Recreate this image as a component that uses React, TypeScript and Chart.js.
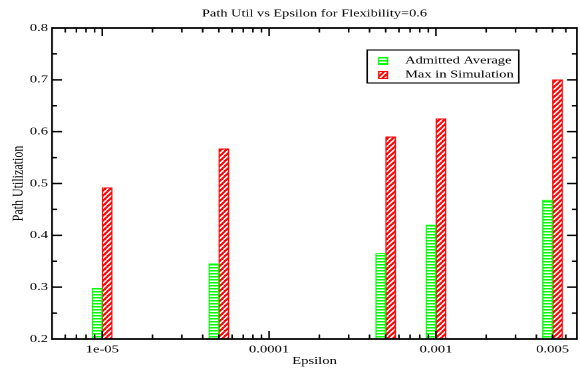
import React, { useEffect, useRef } from 'react';
import { Chart, registerables } from 'chart.js';

Chart.register(...registerables);

// ---- data ----
const epsilons = [1e-5, 5e-5, 5e-4, 1e-3, 5e-3];
const admittedAverage = [0.298, 0.345, 0.365, 0.42, 0.468];
const maxInSimulation = [0.492, 0.567, 0.59, 0.625, 0.70];
const xTickValues = [1e-5, 1e-4, 1e-3, 5e-3];
const xTickLabels = ['1e-05', '0.0001', '0.001', '0.005'];
const seriesNames = ['Admitted Average', 'Max in Simulation'];
const titleText = 'Path Util vs Epsilon for Flexibility=0.6';
const xTitle = 'Epsilon';
const yTitle = 'Path Utilization';
const xMin = 5e-6;
const xMax = 7e-3;
const yMin = 0.2;
const yMax = 0.8;
const yStep = 0.1;
const minorMultipliers = [2, 3, 4, 5, 6, 7, 8, 9];

// ---- layout ----
const OUT_W = 580;
const OUT_H = 368;
const IN_W = 436;
const SX = OUT_W / IN_W;
const FONT = "'Liberation Serif', 'Times New Roman', serif";
const GREEN = '#00ff00';
const RED = '#ff0000';

function makeGreenPattern(ctx: CanvasRenderingContext2D) {
  const c = document.createElement('canvas');
  c.width = 2;
  c.height = 6;
  const g = c.getContext('2d')!;
  g.fillStyle = '#ffffff';
  g.fillRect(0, 0, 2, 6);
  g.fillStyle = GREEN;
  g.fillRect(0, 0, 2, 3);
  const p = ctx.createPattern(c, 'repeat')!;
  p.setTransform(new DOMMatrix().scale(0.5, 0.5));
  return p;
}

function makeRedPattern(ctx: CanvasRenderingContext2D) {
  const c = document.createElement('canvas');
  c.width = 8;
  c.height = 10;
  const g = c.getContext('2d')!;
  g.fillStyle = RED;
  g.fillRect(0, 0, 8, 10);
  g.strokeStyle = '#ffffff';
  g.lineWidth = 2.8;
  for (const off of [-8, 0, 8]) {
    g.beginPath();
    g.moveTo(off, 10);
    g.lineTo(off + 8, 0);
    g.stroke();
  }
  const p = ctx.createPattern(c, 'repeat')!;
  p.setTransform(new DOMMatrix().scale(0.5, 0.5));
  return p;
}

export default function App() {
  const ref = useRef<HTMLCanvasElement | null>(null);

  useEffect(() => {
    const canvas = ref.current!;
    const ctx0 = canvas.getContext('2d')!;
    const greenPat = makeGreenPattern(ctx0);
    const redPat = makeRedPattern(ctx0);

    const decorPlugin = {
      id: 'decor',
      afterDraw(chart: any) {
        const ctx: CanvasRenderingContext2D = chart.ctx;
        const { left, right, top, bottom } = chart.chartArea;
        const xs = chart.scales.x;
        const ys = chart.scales.y;
        ctx.save();
        ctx.strokeStyle = '#000';
        // ticks
        ctx.lineWidth = 1.2;
        const majX = 8, minX = 4.5, majY = 7.5, minY = 3.8;
        const vTick = (v: number, len: number) => {
          const px = xs.getPixelForValue(v);
          if (px <= left + 1 || px >= right - 1) return;
          ctx.beginPath();
          ctx.moveTo(px, bottom);
          ctx.lineTo(px, bottom - len);
          ctx.moveTo(px, top);
          ctx.lineTo(px, top + len);
          ctx.stroke();
        };
        for (let e = -6; e <= -2; e++) {
          const base = Math.pow(10, e);
          if (base >= xMin && base <= xMax) vTick(base, majX);
          for (const m of minorMultipliers) {
            const v = m * base;
            if (v >= xMin && v <= xMax) vTick(v, minX);
          }
        }
        ctx.lineWidth = 1.5;
        const hTick = (v: number, len: number) => {
          const py = ys.getPixelForValue(v);
          if (py <= top + 1 || py >= bottom - 1) return;
          ctx.beginPath();
          ctx.moveTo(left, py);
          ctx.lineTo(left + len, py);
          ctx.moveTo(right, py);
          ctx.lineTo(right - len, py);
          ctx.stroke();
        };
        const nSteps = Math.round((yMax - yMin) / yStep);
        for (let i = 0; i <= nSteps; i++) {
          const v = yMin + i * yStep;
          hTick(v, majY);
          if (i < nSteps) hTick(v + yStep / 2, minY);
        }
        // frame
        ctx.lineWidth = 1.7;
        ctx.beginPath();
        ctx.moveTo(left, top);
        ctx.lineTo(right, top);
        ctx.moveTo(left, bottom);
        ctx.lineTo(right, bottom);
        ctx.stroke();
        ctx.lineWidth = 1.3;
        ctx.beginPath();
        ctx.moveTo(left, top - 0.85);
        ctx.lineTo(left, bottom + 0.85);
        ctx.moveTo(right, top - 0.85);
        ctx.lineTo(right, bottom + 0.85);
        ctx.stroke();

        // titles
        ctx.fillStyle = '#000';
        const cx = (left + right) / 2;
        ctx.font = `10.8px ${FONT}`;
        ctx.textAlign = 'center';
        ctx.textBaseline = 'alphabetic';
        ctx.fillText(titleText, cx, 16.5);
        ctx.font = `11px ${FONT}`;
        ctx.fillText(xTitle, cx, 364);
        ctx.save();
        ctx.font = `12px ${FONT}`;
        ctx.translate(13.8, (top + bottom) / 2);
        ctx.rotate(-Math.PI / 2);
        ctx.textBaseline = 'middle';
        ctx.fillText(yTitle, 0, 0);
        ctx.restore();

        // legend
        const lx0 = 276, lx1 = 390, ly0 = 50, ly1 = 83;
        ctx.fillStyle = '#fff';
        ctx.fillRect(lx0, ly0, lx1 - lx0, ly1 - ly0);
        ctx.strokeStyle = '#000';
        ctx.lineWidth = 1.1;
        ctx.strokeRect(lx0, ly0, lx1 - lx0, ly1 - ly0);
        const rows = [
          { pat: greenPat, col: GREEN, y: 57, base: 63.3, label: seriesNames[0] },
          { pat: redPat, col: RED, y: 71, base: 77.3, label: seriesNames[1] },
        ];
        for (const r of rows) {
          ctx.fillStyle = r.pat;
          ctx.fillRect(284.2, r.y, 7.5, 8);
          ctx.strokeStyle = r.col;
          ctx.lineWidth = 1;
          ctx.strokeRect(284.7, r.y + 0.5, 6.5, 7);
          ctx.fillStyle = '#000';
          ctx.font = `10.9px ${FONT}`;
          ctx.textAlign = 'left';
          ctx.textBaseline = 'alphabetic';
          ctx.fillText(r.label, 304.5, r.base);
        }
        ctx.restore();
      },
    };

    const chart = new Chart(canvas, {
      type: 'bar',
      data: {
        datasets: [
          {
            label: seriesNames[0],
            data: epsilons.map((x, i) => ({ x, y: admittedAverage[i] })),
            backgroundColor: greenPat as any,
            borderColor: GREEN,
            borderWidth: 1,
            borderSkipped: 'start',
            barThickness: 7.5,
          },
          {
            label: seriesNames[1],
            data: epsilons.map((x, i) => ({ x, y: maxInSimulation[i] })),
            backgroundColor: redPat as any,
            borderColor: RED,
            borderWidth: 1,
            borderSkipped: 'start',
            barThickness: 7.5,
          },
        ],
      },
      options: {
        animation: false,
        responsive: true,
        maintainAspectRatio: false,
        devicePixelRatio: 2,
        layout: { padding: { top: 28, right: 2.3, left: 0, bottom: 0 } },
        plugins: {
          legend: { display: false },
          title: { display: false },
          tooltip: { enabled: false },
        },
        scales: {
          x: {
            type: 'logarithmic',
            min: xMin,
            max: xMax,
            offset: false,
            grid: { display: false, drawTicks: false, offset: false },
            border: { display: false },
            afterBuildTicks: (s: any) => {
              s.ticks = xTickValues.map((v) => ({ value: v }));
            },
            afterFit: (s: any) => {
              s.height = OUT_H - 339;
            },
            ticks: {
              autoSkip: false,
              maxRotation: 0,
              minRotation: 0,
              padding: 4,
              color: '#000',
              font: { family: FONT, size: 11 },
              callback: (value: any) => {
                const v = Number(value);
                const i = xTickValues.findIndex((t) => Math.abs(t - v) / t < 1e-6);
                return i >= 0 ? xTickLabels[i] : '';
              },
            },
          },
          y: {
            type: 'linear',
            min: yMin,
            max: yMax,
            grid: { display: false, drawTicks: false },
            border: { display: false },
            afterFit: (s: any) => {
              s.width = 39.1;
            },
            ticks: {
              stepSize: yStep,
              padding: 3,
              color: '#000',
              font: { family: FONT, size: 11 },
              callback: (value: any) => Number(value).toFixed(1),
            },
          },
        },
      } as any,
      plugins: [decorPlugin],
    });
    return () => chart.destroy();
  }, []);

  return (
    <div
      style={{
        position: 'absolute',
        left: 0,
        top: 0,
        width: OUT_W,
        height: OUT_H,
        overflow: 'hidden',
        background: '#fff',
      }}
    >
      <div
        style={{
          width: IN_W,
          height: OUT_H,
          transform: `scaleX(${SX})`,
          transformOrigin: '0 0',
        }}
      >
        <canvas ref={ref} />
      </div>
    </div>
  );
}
